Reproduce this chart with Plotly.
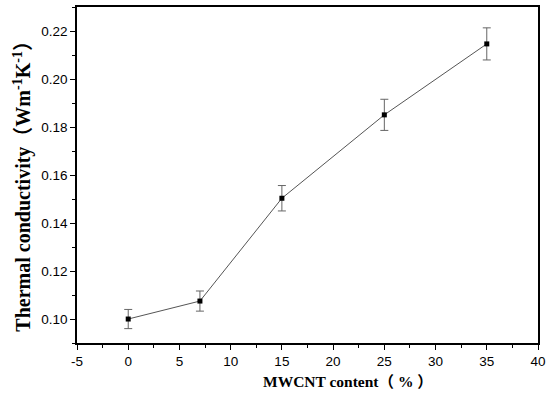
import plotly.graph_objects as go

mwcnt = [0, 7, 15, 25, 35]
conductivity = [0.100, 0.1075, 0.1504, 0.1852, 0.2148]
errors = [0.0040, 0.0042, 0.0053, 0.0065, 0.0067]

x_ticks = [-5, 0, 5, 10, 15, 20, 25, 30, 35, 40]
x_labels = ["-5", "0", "5", "10", "15", "20", "25", "30", "35", "40"]
y_ticks = [0.10, 0.12, 0.14, 0.16, 0.18, 0.20, 0.22]
y_labels = ["0.10", "0.12", "0.14", "0.16", "0.18", "0.20", "0.22"]

x_title = "<b>MWCNT content（ % ）</b>"
y_title = "<b>Thermal conductivity（Wm<sup>-1</sup>K<sup>-1</sup>）</b>"

fig = go.Figure()
fig.add_trace(go.Scatter(
    x=mwcnt, y=conductivity, mode="lines+markers",
    line=dict(color="#555555", width=1),
    marker=dict(symbol="square", size=5, color="black"),
    error_y=dict(type="data", array=errors, visible=True, color="#666666", thickness=1, width=4),
    showlegend=False,
))

axis_common = dict(
    showline=True, linecolor="black", linewidth=1.5, mirror=True,
    ticks="outside", ticklen=5, tickwidth=1, tickcolor="black",
    showgrid=False, zeroline=False, automargin=False,
    tickfont=dict(family="Liberation Sans, Arial", size=13.5, color="black"),
)
serif = "Liberation Serif, Noto Sans CJK SC"

fig.update_layout(
    width=550, height=394,
    margin=dict(l=77, r=12, t=7, b=51),
    paper_bgcolor="white", plot_bgcolor="white",
    xaxis=dict(
        range=[-5, 40], tickmode="array", tickvals=x_ticks, ticktext=x_labels,
        minor=dict(ticks="outside", ticklen=3, dtick=2.5, tick0=-5, tickcolor="black"),
        **axis_common,
    ),
    yaxis=dict(
        range=[0.09, 0.2302], tickmode="array", tickvals=y_ticks, ticktext=y_labels,
        minor=dict(ticks="outside", ticklen=3, dtick=0.01, tick0=0.09, tickcolor="black"),
        **axis_common,
    ),
    annotations=[
        dict(text=x_title, xref="paper", yref="paper", x=0.588, y=0, yshift=-38.5,
             xanchor="center", yanchor="middle", showarrow=False,
             font=dict(family=serif, size=15.5, color="black")),
        dict(text=y_title, xref="paper", yref="paper", x=-0.119, y=0.4807,
             xanchor="center", yanchor="middle", showarrow=False, textangle=-90,
             font=dict(family=serif, size=20, color="black")),
    ],
)

fig.write_html(
    "out.html",
    config={"displayModeBar": False},
    post_script="document.body.style.margin='0';document.body.style.overflow='hidden';",
)
